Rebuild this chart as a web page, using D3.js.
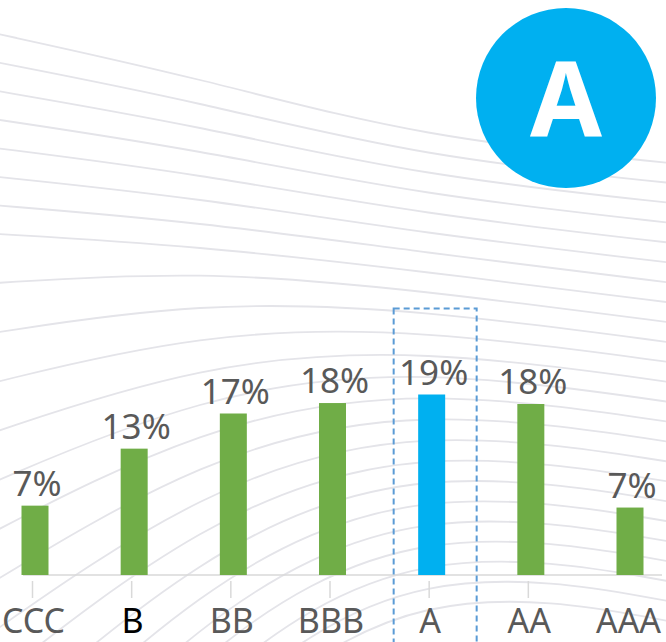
<!DOCTYPE html>
<head>
    <title>Rating distribution</title>
    <script src="https://d3js.org/d3.v7.min.js"></script>
    <style>
        body { margin: 0; background: #fff; }
        .val { font-family: "Noto Sans", sans-serif; font-size: 35px; fill: #595959; }
        .tick text { font-family: "Noto Sans", sans-serif; font-size: 34px; fill: #595959; }
    </style>
</head>
<body>
    <svg id="chart" width="666" height="642" style="display: block;"></svg>
    <script>

        // ratings along the x axis, share of issuers in %
        var categories = ["CCC", "B", "BB", "BBB", "A", "AA", "AAA"];
        var values = [7.3, 13.3, 17.0, 18.1, 19.0, 18.0, 7.1];
        var highlight = "A";
        var darkLabel = "B";

        var width = 666, height = 642;
        var svg = d3.select("#chart");

        // faint wavy background lines
        var bg = svg.append("g");
        var wave = d3.line().curve(d3.curveBasis);
        for (var k = 0; k < 24; k++) {
            var pts = [
                [-20, 30 + 29 * k + 22 * Math.max(0, k - 7)],
                [200, 78 + 24 * k + 7 * Math.max(0, k - 8)],
                [420, 138 + 19 * k],
                [690, 165 + 20 * k]
            ];
            bg.append("path")
                .attr("d", wave(pts))
                .attr("fill", "none")
                .attr("stroke", "#e4e4e9")
                .attr("stroke-width", 1.8);
        }

        var x = d3.scalePoint()
            .domain(categories)
            .range([35, 630]);

        var y = d3.scaleLinear()
            .domain([0, 20])
            .range([575, 385]);

        var barW = 27;

        // baseline
        svg.append("line")
            .attr("x1", 23).attr("x2", 662)
            .attr("y1", y(0)).attr("y2", y(0))
            .attr("stroke", "#d9d9d9")
            .attr("stroke-width", 1.5);

        // dashed frame round the highlighted rating
        var hi = values[categories.indexOf(highlight)];
        svg.append("rect")
            .attr("x", x(highlight) - 38)
            .attr("y", y(hi) - 86)
            .attr("width", 83)
            .attr("height", 400)
            .attr("fill", "none")
            .attr("stroke", "#5b9bd5")
            .attr("stroke-width", 2)
            .attr("stroke-dasharray", "6,4");

        svg.selectAll(".bar")
            .data(categories)
            .enter().append("rect")
            .attr("class", "bar")
            .attr("x", function (d) { return x(d) - barW / 2; })
            .attr("y", function (d, i) { return y(values[i]); })
            .attr("width", barW)
            .attr("height", function (d, i) { return y(0) - y(values[i]); })
            .attr("fill", function (d) { return d === highlight ? "#00b0f0" : "#70ad47"; });

        svg.selectAll(".val")
            .data(categories)
            .enter().append("text")
            .attr("class", "val")
            .attr("x", function (d) { return x(d) + 2; })
            .attr("y", function (d, i) { return y(values[i]) - 10; })
            .attr("text-anchor", "middle")
            .text(function (d, i) { return Math.round(values[i]) + "%"; });

        // category axis
        var axis = svg.append("g")
            .attr("transform", "translate(-3," + 581 + ")")
            .call(d3.axisBottom(x).tickSize(17).tickPadding(11));
        axis.select(".domain").remove();
        axis.selectAll(".tick line").attr("stroke", "#d9d9d9").attr("stroke-width", 1.5);
        axis.selectAll(".tick").filter(function (d) { return d === "AAA"; })
            .select("line").remove();
        axis.selectAll(".tick text")
            .attr("x", 1)
            .style("fill", function (d) { return d === darkLabel ? "#000" : "#595959"; });

        // rating badge
        svg.append("circle")
            .attr("cx", 566).attr("cy", 98).attr("r", 90)
            .attr("fill", "#00b0f0");
        svg.append("text")
            .attr("x", 566).attr("y", 137)
            .attr("text-anchor", "middle")
            .attr("font-family", "Noto Sans, sans-serif")
            .attr("font-weight", "bold")
            .attr("font-size", 104)
            .attr("fill", "#fff")
            .text(highlight);

    </script>
</body>
